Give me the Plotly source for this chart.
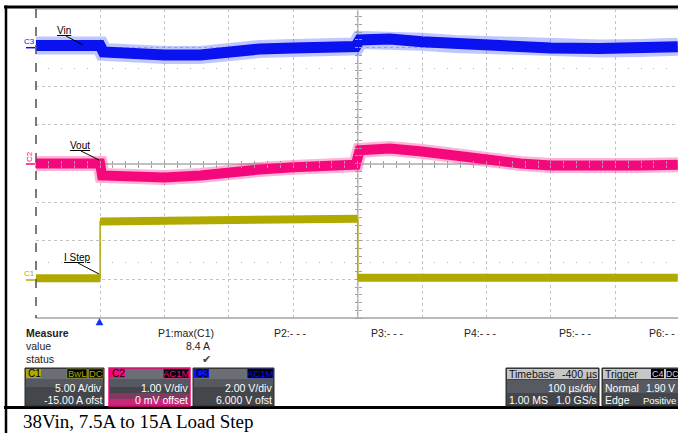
import plotly.graph_objects as go

# time in microseconds, load step applied at t = 0 and released at t = 400
t_vin = [-100, 0, 5, 47, 100, 156, 200, 248, 300, 357, 397, 403, 450, 500, 551, 600, 653, 700, 776, 838, 897]
vin_ac = [0.11, 0.11, -0.22, -0.33, -0.38, -0.38, -0.17, -0.07, -0.02, 0.04, 0.06, 0.40, 0.45, 0.30, 0.19,
          0.09, 0.01, -0.02, -0.04, -0.02, 0.04]

t_vout = [-100, 0, 3, 47, 100, 156, 200, 248, 300, 357, 397, 403, 450, 500, 600, 653, 700, 776, 838, 897]
vout_ac = [0.0, 0.0, -0.31, -0.36, -0.36, -0.31, -0.21, -0.155, -0.10, -0.05, -0.03, 0.34, 0.39, 0.31,
           0.08, 0.0, -0.05, -0.08, -0.05, -0.03]

t_istep = [-100, 0, 0, 100, 200, 300, 400, 400, 897]
i_step = [0.15, 0.15, 7.5, 7.55, 7.7, 7.8, 7.85, 0.2, 0.2]

measure_names = ["P1:max(C1)", "P2:- - -", "P3:- - -", "P4:- - -", "P5:- - -", "P6:- -"]
measure_x = [157, 273, 370, 463, 558, 648]
p1_value = "8.4 A"

VIN_C = "#0a12f0"
VOUT_C = "#f5087c"
I_C = "#b0aa00"

W, H = 678, 433


def px(x):
    return x / W


def py(y):
    return 1 - y / H


fig = go.Figure()

# noisy bands drawn as a soft halo plus a solid core
fig.add_trace(go.Scatter(x=t_vin, y=vin_ac, yaxis="y3", mode="lines",
                         line=dict(color="rgba(60,80,255,0.32)", width=18), hoverinfo="skip"))
fig.add_trace(go.Scatter(x=t_vin, y=vin_ac, yaxis="y3", mode="lines",
                         line=dict(color=VIN_C, width=11), hoverinfo="skip"))
fig.add_trace(go.Scatter(x=t_vout, y=vout_ac, yaxis="y2", mode="lines",
                         line=dict(color="rgba(250,40,140,0.35)", width=15), hoverinfo="skip"))
fig.add_trace(go.Scatter(x=t_vout, y=vout_ac, yaxis="y2", mode="lines",
                         line=dict(color=VOUT_C, width=10), hoverinfo="skip"))

# current: thin edges, thick flat parts
ti_thick, i_thick = [], []
for k in range(len(t_istep)):
    if k > 0 and t_istep[k] == t_istep[k - 1]:
        ti_thick.append(None)
        i_thick.append(None)
    ti_thick.append(t_istep[k])
    i_thick.append(i_step[k])
fig.add_trace(go.Scatter(x=t_istep, y=i_step, yaxis="y", mode="lines",
                         line=dict(color=I_C, width=1.5), hoverinfo="skip"))
fig.add_trace(go.Scatter(x=ti_thick, y=i_thick, yaxis="y", mode="lines",
                         line=dict(color=I_C, width=8), hoverinfo="skip"))

# dummy traces so the helper tick axes get drawn
for xa, ya in [("x2", "y4"), ("x3", "y4"), ("x4", "y4"), ("x5", "y4"), ("x", "y5"), ("x", "y6")]:
    fig.add_trace(go.Scatter(x=[None], y=[None], xaxis=xa, yaxis=ya, showlegend=False, hoverinfo="skip"))

xdom = [px(35.7), 1]
ydom = [py(318), py(9)]
xr = [-100, -100 + (678 - 35.7) / 64.4 * 100]

tick_ax = dict(overlaying="x", range=xr, anchor="free", showgrid=False, zeroline=False,
               showline=False, showticklabels=False, ticks="outside", dtick=20, tick0=0)

fig.update_layout(
    width=W, height=H, autosize=False,
    margin=dict(l=0, r=0, t=0, b=0),
    paper_bgcolor="white", plot_bgcolor="white",
    showlegend=False,
    xaxis=dict(domain=xdom, range=xr, showgrid=True, gridcolor="#c4c4c4", griddash="dot",
               dtick=100, tick0=0, showticklabels=False, zeroline=False, ticks="", showline=False,
               anchor="y4"),
    xaxis2=dict(tick_ax, position=py(164), side="bottom", ticklen=3, tickcolor="#a0a0a0"),
    xaxis3=dict(tick_ax, position=py(164), side="top", ticklen=3, tickcolor="#a0a0a0"),
    xaxis4=dict(tick_ax, position=py(66.5), side="bottom", ticklen=1.5, tickcolor="#b4b4b4"),
    xaxis5=dict(tick_ax, position=py(260.5), side="bottom", ticklen=1.5, tickcolor="#b4b4b4"),
    yaxis=dict(domain=ydom, range=[-5, 35], visible=False),
    yaxis2=dict(overlaying="y", range=[-4, 4], visible=False),
    yaxis3=dict(overlaying="y", range=[-14, 2], visible=False),
    yaxis4=dict(overlaying="y", range=[-4, 4], dtick=1, showgrid=True, gridcolor="#c4c4c4",
                griddash="dot", showticklabels=False, zeroline=False, ticks=""),
    yaxis5=dict(overlaying="y", range=[-4, 4], anchor="free", position=px(357.7), side="left",
                ticks="outside", ticklen=3, tickcolor="#a0a0a0", dtick=0.2, tick0=0,
                showgrid=False, zeroline=False, showline=False, showticklabels=False),
    yaxis6=dict(overlaying="y", range=[-4, 4], anchor="free", position=px(357.7), side="right",
                ticks="outside", ticklen=3, tickcolor="#a0a0a0", dtick=0.2, tick0=0,
                showgrid=False, zeroline=False, showline=False, showticklabels=False),
)

shapes = []


def line(x0, y0, x1, y1, color, width, dash=None, layer="above"):
    shapes.append(dict(type="line", xref="paper", yref="paper", x0=px(x0), y0=py(y0), x1=px(x1),
                       y1=py(y1), line=dict(color=color, width=width, dash=dash), layer=layer))


def rect(x0, y0, x1, y1, fill, color=None, width=0):
    shapes.append(dict(type="rect", xref="paper", yref="paper", x0=px(x0), y0=py(y0), x1=px(x1),
                       y1=py(y1), fillcolor=fill, line=dict(color=color or fill, width=width),
                       layer="above"))


# graticule frame and centre lines
line(35.7, 164, 680, 164, "#a8a8a8", 1.5, layer="below")
line(357.7, 9, 357.7, 318, "#a8a8a8", 1.5, layer="below")
line(35.7, 9.5, 680, 9.5, "#c8c8c8", 1)
line(35.7, 318, 680, 318, "#a4a4a4", 1.5)
line(36, 9, 36, 318, "#505050", 1.5, dash="dash")

# page frame
line(4, 7, 680, 7, "black", 3)
line(6, 5.5, 6, 433, "black", 2.5)
line(4, 407.5, 680, 407.5, "black", 3)

# channel ground markers
line(26, 47.7, 35, 47.7, VIN_C, 1.5)
line(26, 164, 35, 164, VOUT_C, 1.5)
line(26, 280, 35, 280, I_C, 1.5)

# trace label leaders
line(66, 36, 83, 45, "black", 1)
line(81, 151, 99, 160, "black", 1)
line(78, 263, 99, 274, "black", 1)

# trigger marker
shapes.append(dict(type="path", xref="paper", yref="paper",
                   path=f"M {px(96)},{py(325)} L {px(103)},{py(325)} L {px(99.5)},{py(318.5)} Z",
                   fillcolor="#1030ff", line=dict(color="#1030ff", width=0.5)))

ann = []


def text(x, y, s, size=10.5, color="black", anchor="left", family="Liberation Sans", angle=0,
         bg=None):
    ann.append(dict(x=px(x), y=py(y), xref="paper", yref="paper", text=s, showarrow=False,
                    xanchor=anchor, yanchor="middle", textangle=angle, bgcolor=bg,
                    font=dict(size=size, color=color, family=family), borderpad=0))


text(64, 30, "<u>Vin</u>", size=10, anchor="center")
text(80, 145, "<u>Vout</u>", size=10, anchor="center")
text(77, 257, "<u>I Step</u>", size=10, anchor="center")
text(29, 41, "C3", size=8, color=VIN_C, anchor="center")
text(29, 157, "C2", size=8, color=VOUT_C, anchor="center", angle=-90)
text(29, 273, "C1", size=8, color=I_C, anchor="center")

# measure table
text(25, 333, "<b>Measure</b>", size=10.5, color="#222")
text(25, 346, "value", size=10.5, color="#222")
text(25, 359, "status", size=10.5, color="#222")
for name, mx in zip(measure_names, measure_x):
    text(mx, 333, name, size=10.5, color="#222")
text(211, 346, p1_value, size=10.5, color="#222", anchor="right")
text(206, 359, "✔", size=11, color="#444", anchor="center", family="DejaVu Sans")


def chan_box(x0, x1, label, col, tags, l2, l3, border=None, glow=None):
    rect(x0, 368, x1, 406, "#43464b", border or "#2a2a2a", 1.5 if border else 1)
    rect(x0 + 1, 369, x1 - 1, 387, "#55595f")
    rect(x0 + 1, 369, x1 - 1, 379, "#6b6f75")
    if glow:
        rect(x0 + 1, 393, x1 - 1, 405, glow[0])
        rect(x0 + 1, 399, x1 - 1, 405, glow[1])
    rect(x0 + 1, 369, x0 + 16, 378, col)
    text(x0 + 2, 373.5, label, size=10, color="black")
    xr_ = x1 - 1
    for tg in reversed(tags):
        w = 5.6 * len(tg) + 3
        rect(xr_ - w, 369, xr_, 378, "black", col, 0.5)
        text(xr_ - w / 2, 373.5, tg, size=9.5, color=col, anchor="center")
        xr_ -= w + 2
    text(x1 - 1, 388, l2, color="white")
    text(x1 - 1, 400, l3, color="white")
    ann[-1]["xanchor"] = "right"
    ann[-2]["xanchor"] = "right"


chan_box(25, 104, "C1", I_C, ["BwL", "DC"], "5.00 A/div", "-15.00 A ofst")
chan_box(109, 190, "C2", VOUT_C, ["AC1M"], "1.00 V/div", "0 mV offset", border=VOUT_C,
         glow=("rgba(255,30,140,0.35)", "rgba(255,30,140,0.55)"))
chan_box(193, 274, "C3", VIN_C, ["AC1M"], "2.00 V/div", "6.000 V ofst")

# timebase and trigger boxes
for x0, x1 in [(506, 599), (602, 682)]:
    rect(x0, 368, x1, 406, "#43464b", "#2a2a2a", 1)
    rect(x0 + 1, 380, x1 - 1, 393, "#575b61")
    rect(x0 + 1, 369, x1 - 1, 379, "#c6c6c6")
text(508, 373.5, "Timebase", color="#111")
text(598, 373.5, "-400 µs", color="#111", anchor="right")
text(598, 388, "100 µs/div", color="white", anchor="right")
text(508, 400, "1.00 MS", color="white")
text(598, 400, "1.0 GS/s", color="white", anchor="right")
text(604, 373.5, "Trigger", color="#111")
rect(651, 369, 664, 378, "black")
rect(666, 369, 678, 378, "black")
text(657.5, 373.5, "C4", size=9, color="#d0d0d0", anchor="center")
text(672, 373.5, "DC", size=8.5, color="#d0d0d0", anchor="center")
text(604, 388, "Normal", color="white")
text(676, 388, "1.90 V", size=10, color="white", anchor="right")
text(604, 400, "Edge", color="white")
text(677, 400, "Positive", size=9.5, color="white", anchor="right")

# caption
text(22, 421, "38Vin, 7.5A to 15A Load Step", size=19, family="Liberation Serif")

fig.update_layout(shapes=shapes, annotations=ann)
# page body has a default 8px margin; remove it so the figure fills the window
fig.write_html("out.html", config={"displayModeBar": False},
               post_script="document.body.style.margin='0';")
